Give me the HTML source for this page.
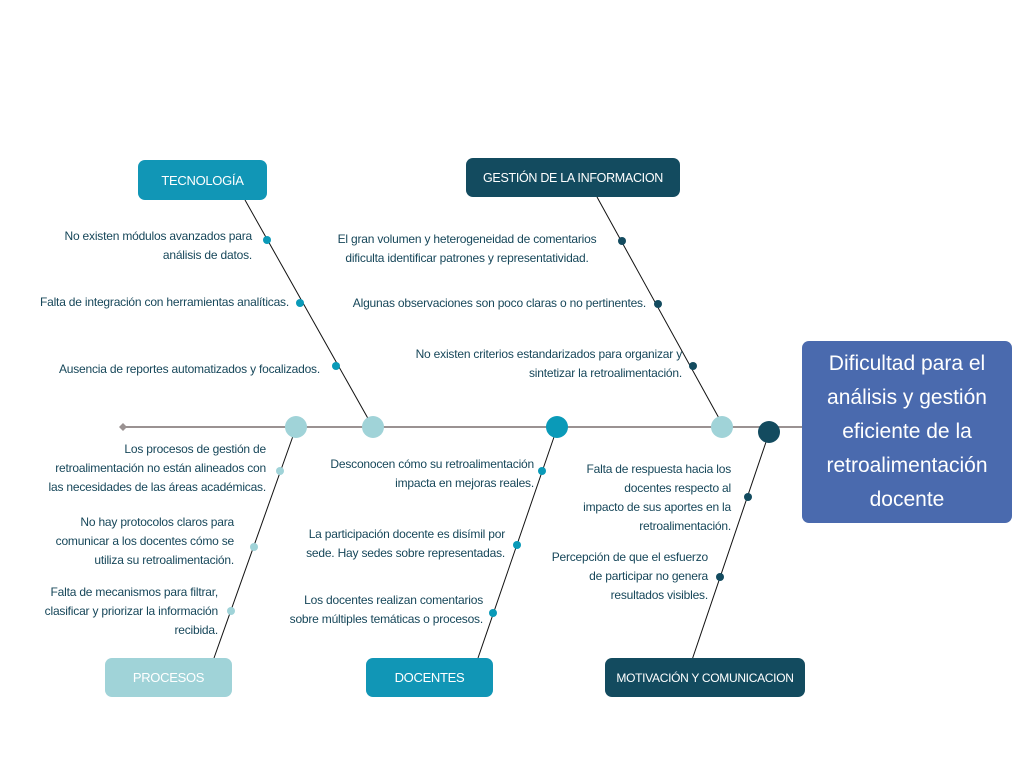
<!DOCTYPE html>
<html><head><meta charset="utf-8"><style>
body{margin:0;width:1024px;height:768px;background:#fff;position:relative;overflow:hidden;font-family:"Liberation Sans",sans-serif}
.t{position:absolute;font-size:12px;line-height:19px;color:#17475a;white-space:nowrap;letter-spacing:-0.2px}
.r{text-align:right}.c{text-align:center}
.b{position:absolute;border-radius:7px;color:#fff;font-size:13px;display:flex;align-items:center;justify-content:center;white-space:nowrap;letter-spacing:-0.3px}
</style></head><body>
<svg width="1024" height="768" style="position:absolute;left:0;top:0">
<line x1="123" y1="427" x2="802" y2="427" stroke="#9a9292" stroke-width="2"/>
<polygon points="119,427 123,423 127,427 123,431" fill="#9a9292"/>
<g stroke="#111" stroke-width="1">
<line x1="245" y1="200" x2="370" y2="422"/>
<line x1="597" y1="197" x2="720" y2="420"/>
<line x1="293" y1="436" x2="214" y2="658"/>
<line x1="554" y1="437" x2="478" y2="658"/>
<line x1="766" y1="442" x2="692" y2="660"/>
</g>
<circle cx="296" cy="427" r="11" fill="#a0d3d8"/>
<circle cx="373" cy="427" r="11" fill="#a0d3d8"/>
<circle cx="557" cy="427" r="11" fill="#0a9ab8"/>
<circle cx="722" cy="427" r="11" fill="#a0d3d8"/>
<circle cx="769" cy="432" r="11" fill="#134b5f"/>
<g fill="#0a9ab8"><circle cx="267" cy="240" r="4"/><circle cx="300" cy="303" r="4"/><circle cx="336" cy="366" r="4"/>
<circle cx="542" cy="471" r="4"/><circle cx="517" cy="545" r="4"/><circle cx="493" cy="613" r="4"/></g>
<g fill="#134b5f"><circle cx="622" cy="241" r="4"/><circle cx="658" cy="304" r="4"/><circle cx="693" cy="366" r="4"/>
<circle cx="748" cy="497" r="4"/><circle cx="720" cy="577" r="4"/></g>
<g fill="#a0d3d8"><circle cx="280" cy="471" r="4"/><circle cx="254" cy="547" r="4"/><circle cx="231" cy="611" r="4"/></g>
</svg>
<div class="b" style="left:138px;top:160px;width:129px;height:40px;background:#1196b6">TECNOLOGÍA</div>
<div class="b" style="left:466px;top:158px;width:214px;height:39px;background:#134b5f;font-size:12.5px">GESTIÓN DE LA INFORMACION</div>
<div class="b" style="left:105px;top:658px;width:127px;height:39px;background:#a0d3d8">PROCESOS</div>
<div class="b" style="left:366px;top:658px;width:127px;height:39px;background:#1196b6">DOCENTES</div>
<div class="b" style="left:605px;top:658px;width:200px;height:39px;background:#134b5f;font-size:12px">MOTIVACIÓN Y COMUNICACION</div>
<div class="b" style="left:802px;top:341px;width:210px;height:182px;background:#4a6aae;font-size:21px;line-height:34px;text-align:center;white-space:normal;letter-spacing:0">Dificultad para el<br>análisis y gestión<br>eficiente de la<br>retroalimentación<br>docente</div>
<div class="t r" style="right:772px;top:227px">No existen módulos avanzados para<br>análisis de datos.</div>
<div class="t r" style="right:735px;top:293px">Falta de integración con herramientas analíticas.</div>
<div class="t r" style="right:704px;top:360px">Ausencia de reportes automatizados y focalizados.</div>
<div class="t c" style="left:318px;top:230px;width:298px">El gran volumen y heterogeneidad de comentarios<br>dificulta identificar patrones y representatividad.</div>
<div class="t r" style="right:378px;top:294px">Algunas observaciones son poco claras o no pertinentes.</div>
<div class="t r" style="right:342px;top:345px">No existen criterios estandarizados para organizar y<br>sintetizar la retroalimentación.</div>
<div class="t r" style="right:758px;top:440px">Los procesos de gestión de<br>retroalimentación no están alineados con<br>las necesidades de las áreas académicas.</div>
<div class="t r" style="right:790px;top:513px">No hay protocolos claros para<br>comunicar a los docentes cómo se<br>utiliza su retroalimentación.</div>
<div class="t r" style="right:806px;top:583px">Falta de mecanismos para filtrar,<br>clasificar y priorizar la información<br>recibida.</div>
<div class="t r" style="right:490px;top:455px">Desconocen cómo su retroalimentación<br>impacta en mejoras reales.</div>
<div class="t r" style="right:519px;top:525px">La participación docente es disímil por<br>sede. Hay sedes sobre representadas.</div>
<div class="t r" style="right:541px;top:591px">Los docentes realizan comentarios<br>sobre múltiples temáticas o procesos.</div>
<div class="t r" style="right:293px;top:460px">Falta de respuesta hacia los<br>docentes respecto al<br>impacto de sus aportes en la<br>retroalimentación.</div>
<div class="t r" style="right:316px;top:548px">Percepción de que el esfuerzo<br>de participar no genera<br>resultados visibles.</div>
</body></html>
